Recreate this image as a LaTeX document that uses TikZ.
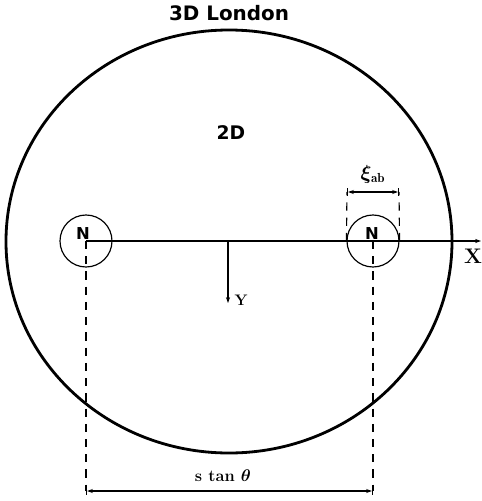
\documentclass[tikz,border=0pt]{standalone}
\usepackage{amsmath,amssymb,bm}
\usepackage{fontspec}
\newfontfamily\headfont{DejaVu Sans}
\usetikzlibrary{arrows.meta, positioning, calc, shapes.geometric}

\begin{document}
\begin{tikzpicture}[
					x=0.03cm, y=-0.03cm,
					>={Stealth[length=5pt,width=3.5pt]},
					region/.style={ellipse, draw, line width=2.4pt, minimum width=13.38cm, minimum height=12.69cm, inner sep=0pt},
					vortex/.style={circle, draw, line width=1pt, minimum size=1.56cm, inner sep=0pt},
					axis/.style={->, line width=0.9pt},
					guide/.style={dashed, line width=1pt, dash pattern=on 7pt off 6pt},
					dim/.style={|<->|, line width=0.9pt},
					head/.style={font=\headfont\bfseries\fontsize{17}{20}\selectfont},
					lbl/.style={font=\bfseries\fontsize{14}{16}\selectfont}
					]
					\useasboundingbox (0,0) rectangle (482,501);
					% --- regions ---
					\node[region] (london) at (229,241.5) {};
					\node[head] (title) at (229,13) {3D London};
					\node[head, font=\headfont\bfseries\fontsize{16}{19}\selectfont] (flat) at (231,133) {2D};
					
					% --- vortices ---
					\node[head, font=\headfont\bfseries\fontsize{14}{16}\selectfont] (nleft) at (83,234) {N};
					\node[head, font=\headfont\bfseries\fontsize{14}{16}\selectfont] (nright) at (372,234) {N};
					\node[vortex] (left) at (86,241) {};
					\node[vortex] (right) at (373,241) {};
					
					% --- axes ---
					\coordinate (xend) at (481,241);
					\coordinate (yorig) at (228,241);
					\coordinate (yend) at (228,303);
					\draw[line width=2pt] (left.east) -- (right.west);
					\draw[axis] (left.center) -- (xend);
					\draw[axis] (yorig) -- (yend);
					\node[lbl, font=\bfseries\fontsize{18}{20}\selectfont] (xlab) at (473,256) {X};
					\node[lbl, font=\bfseries\fontsize{13}{15}\selectfont] (ylab) at (241,300) {Y};
					
					% --- spacing s tan theta ---
					\coordinate (footl) at (86,491);
					\coordinate (footr) at (373,491);
					\draw[guide] (left.center) -- (footl);
					\draw[guide] (right.center) -- (footr);
					\draw[dim] (footl) -- (footr);
					\node[lbl] (spacing) at (223,476) {s tan $\bm{\theta}$};
					
					% --- core size xi_ab ---
					\coordinate (corel) at (347,192);
					\coordinate (corer) at (399,192);
					\draw[guide] (right.west) -- (corel);
					\draw[guide] (right.east) -- (corer);
					\draw[dim] (corel) -- (corer);
					\node[lbl, font=\bfseries\fontsize{16}{18}\selectfont] (core) at (373,174) {$\bm{\xi}_{\mathbf{ab}}$};
				\end{tikzpicture}
\end{document}
